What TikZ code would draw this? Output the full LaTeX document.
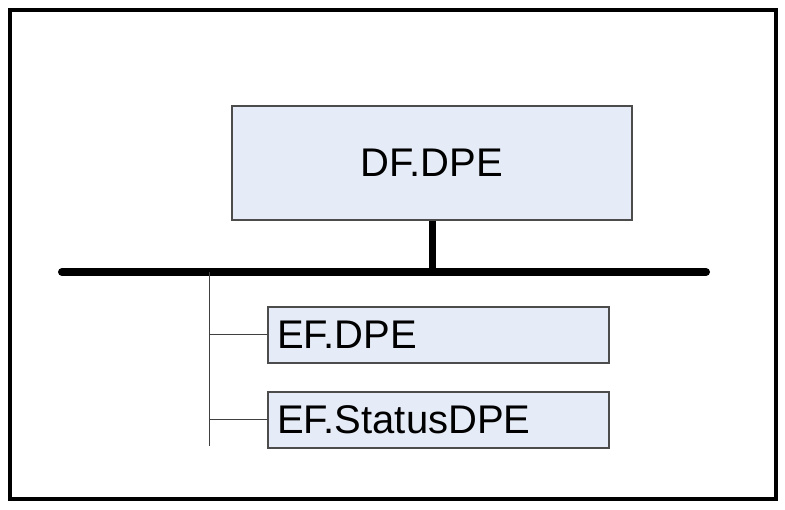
\documentclass[tikz,border=0pt]{standalone}
\usepackage{fontspec}
\setmainfont{Liberation Sans}
\begin{document}
\begin{tikzpicture}[x=1pt,y=-1pt,
  blockbox/.style={draw=black!70,line width=1.2pt,fill=boxblue,inner sep=0pt,font=\fontsize{40}{48}\selectfont},
  thinline/.style={draw=black!75,line width=1pt},
  bus/.style={line width=8pt,line cap=round}]
\definecolor{boxblue}{HTML}{E6ECF7}
\useasboundingbox (0,0) rectangle (785,510);
\draw[line width=4pt] (10,10) rectangle (776,499);
\node[blockbox,minimum width=400pt,minimum height=114pt] (df) at (432,163) {DF.DPE};
\node[blockbox,minimum width=341pt,minimum height=56pt,text width=323pt,align=left] (ef1) at (438.5,335) {EF.DPE};
\node[blockbox,minimum width=341pt,minimum height=56pt,text width=323pt,align=left] (ef2) at (438.5,420) {EF.StatusDPE};
\coordinate (busL) at (62,272);
\coordinate (busR) at (706,272);
\coordinate (tap) at (432,272);
\coordinate (vtop) at (209,272);
\coordinate (vbot) at (209,446);
\draw[line width=7pt] (df.south) -- (tap);
\draw[bus] (busL) -- (busR);
\draw[thinline] (vtop) -- (vbot);
\draw[thinline] (ef1.west) -- (ef1.west -| vtop);
\draw[thinline] (ef2.west) -- (ef2.west -| vtop);
\end{tikzpicture}
\end{document}
